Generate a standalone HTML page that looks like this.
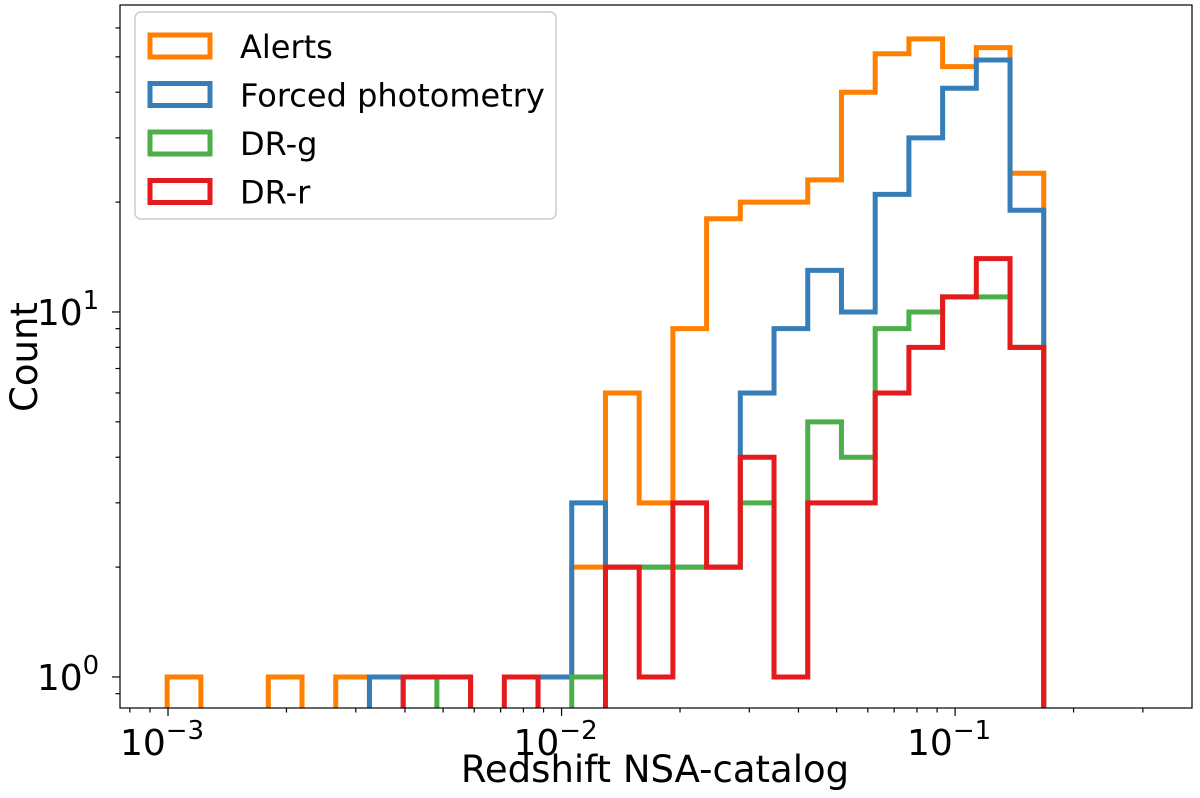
<!DOCTYPE html>
<html><head><meta charset="utf-8"><style>
body{margin:0;background:#fff;}
svg text{font-family:"DejaVu Sans","Liberation Sans",sans-serif;fill:#000;}
</style></head><body>
<svg id="chart" width="1200" height="793" viewBox="0 0 1200 793" xmlns="http://www.w3.org/2000/svg">
<g id="plot"></g>
</svg>
<script>
const binLo = 0.000995, binHi = 0.168, nBins = 26;
const seriesNames = ["Alerts","Forced photometry","DR-g","DR-r"];
const seriesColors = ["#ff7f00","#377eb8","#4daf4a","#e41a1c"];
const alerts = [1,0,0,1,0,1,0,0,0,0,0,1,2,6,3,9,18,20,20,23,40,51,56,47,53,24];
const forced = [0,0,0,0,0,0,1,0,0,0,0,1,3,2,2,2,2,6,9,13,10,21,30,41,49,19];
const drg    = [0,0,0,0,0,0,0,0,1,0,0,0,1,2,2,2,2,3,1,5,4,9,10,11,11,8];
const drr    = [0,0,0,0,0,0,0,1,1,0,1,0,0,2,1,3,2,4,1,3,3,6,8,11,14,8];
const xTickVals = [0.001,0.01,0.1];
const xTickExp = ["\u22123","\u22122","\u22121"];
const yTickVals = [1,10];
const yTickExp = ["0","1"];

const L=120,R=1192,T=5,B=708;
const xMinL=-3.122,xMaxL=-0.398,yMinL=-0.085,yMaxL=1.841;
const xs=v=>L+(Math.log10(v)-xMinL)/(xMaxL-xMinL)*(R-L);
const ys=v=>v<=0?B+20:B-(Math.log10(v)-yMinL)/(yMaxL-yMinL)*(B-T);
const NS="http://www.w3.org/2000/svg";
const plot=document.getElementById('plot');
function mk(tag,attrs,parent){const e=document.createElementNS(NS,tag);for(const k in attrs)e.setAttribute(k,attrs[k]);(parent||plot).appendChild(e);return e;}

const clip=mk('clipPath',{id:'pc'});mk('rect',{x:L,y:T,width:R-L,height:B-T},clip);
const edges=[];for(let i=0;i<=nBins;i++)edges.push(Math.pow(10,Math.log10(binLo)+i*(Math.log10(binHi)-Math.log10(binLo))/nBins));
const all=[alerts,forced,drg,drr];
all.forEach((vals,si)=>{
  let d="M"+xs(edges[0])+","+ys(0);
  vals.forEach((v,i)=>{d+=" L"+xs(edges[i])+","+ys(v)+" L"+xs(edges[i+1])+","+ys(v);});
  d+=" L"+xs(edges[nBins])+","+ys(0);
  const p=mk('path',{d:d,fill:'none',stroke:seriesColors[si],'stroke-width':5,'stroke-linejoin':'miter','clip-path':'url(#pc)'});
  
  
});
const fr=mk('rect',{x:L,y:T,width:R-L,height:B-T,fill:'none',stroke:'#000','stroke-width':1.2});


for(let e=-4;e<=0;e++)for(let m=1;m<10;m++){const v=m*Math.pow(10,e);const x=xs(v);if(x<L||x>R)continue;
  mk('line',{x1:x,x2:x,y1:B,y2:B+(m==1?8:4.5),stroke:'#000','stroke-width':1.2});}
xTickVals.forEach((v,i)=>{const t=mk('text',{x:xs(v)-6,y:B+47,'font-size':36,'text-anchor':'middle'});
  
  
  t.textContent="10";const s=mk('tspan',{dy:-16,'font-size':26},t);s.textContent=xTickExp[i];});
for(let e=-1;e<=2;e++)for(let m=1;m<10;m++){const v=m*Math.pow(10,e);const y=ys(v);if(y<T||y>B)continue;
  mk('line',{x1:L,x2:L-(m==1?8:4.5),y1:y,y2:y,stroke:'#000','stroke-width':1.2});}
yTickVals.forEach((v,i)=>{const t=mk('text',{x:L-52,y:ys(v)+13,'font-size':36,'text-anchor':'middle'});
  
  
  t.textContent="10";const s=mk('tspan',{dy:-16,'font-size':26},t);s.textContent=yTickExp[i];});
const xt=mk('text',{x:655,y:782,'font-size':37,'text-anchor':'middle'});xt.textContent="Redshift NSA-catalog";


const yt=mk('text',{x:37,y:357,'font-size':37,'text-anchor':'middle',transform:'rotate(-90 37 357)'});yt.textContent="Count";


const lg=mk('g',{});


mk('rect',{x:135,y:12,width:421,height:207,rx:6,fill:'#fff',stroke:'#ccc','stroke-width':1.5},lg);
seriesNames.forEach((n,i)=>{const y=47+i*48.5;
  const g=mk('g',{},lg);
  
  
  mk('rect',{x:150,y:y-12,width:60,height:22,fill:'none',stroke:seriesColors[i],'stroke-width':5},g);
  const t=mk('text',{x:240,y:y+11,'font-size':32},g);t.textContent=n;});
</script>
</body></html>
